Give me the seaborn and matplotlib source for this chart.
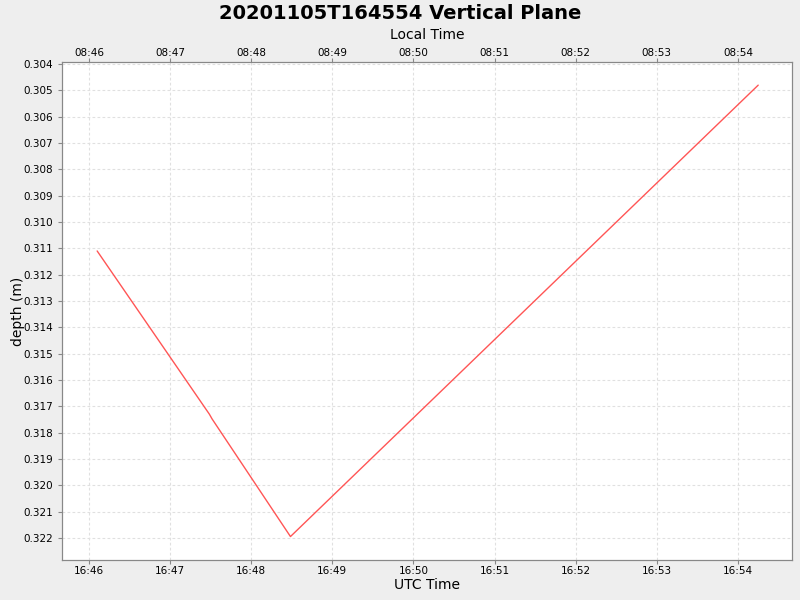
import numpy as np
import pandas as pd
import seaborn as sns
import matplotlib
matplotlib.use("Agg")
import matplotlib.pyplot as plt
import matplotlib.dates as mdates

# data
utc_times = ["2020-11-05 16:46:06", "2020-11-05 16:47:29", "2020-11-05 16:47:31",
             "2020-11-05 16:48:29", "2020-11-05 16:54:15"]
depths = [0.3111, 0.3173, 0.31748, 0.32195, 0.3048]
x_start = "2020-11-05 16:45:40"
x_end = "2020-11-05 16:54:40"
local_offset_hours = -8

df = pd.DataFrame({"utc": pd.to_datetime(utc_times), "depth": depths})

sns.set_style("white")
plt.rcParams['font.family'] = ['DejaVu Sans']
plt.rcParams['text.color'] = 'black'
plt.rcParams['axes.labelcolor'] = 'black'
plt.rcParams['xtick.color'] = 'black'
plt.rcParams['ytick.color'] = 'black'

fig = plt.figure(figsize=(8, 6), dpi=100, facecolor="#eeeeee")
ax = fig.add_axes([0.0775, 0.0667, 0.9125, 0.83])
ax.set_facecolor("white")

sns.lineplot(data=df, x="utc", y="depth", color="#ff5555", linewidth=1.0, ax=ax)

ax.set_xlim(pd.Timestamp(x_start), pd.Timestamp(x_end))
ax.set_ylim(0.32284, 0.30392)
ax.set_yticks(np.round(np.arange(0.304, 0.3225, 0.001), 3))
ax.yaxis.set_major_formatter(plt.FormatStrFormatter("%.3f"))
ax.xaxis.set_major_locator(mdates.MinuteLocator())
ax.xaxis.set_major_formatter(mdates.DateFormatter("%H:%M"))

ax.grid(True, color="#e0e0e0", linestyle=(0, (2.5, 2)), linewidth=0.8)
for s in ax.spines.values():
    s.set_color("#888888")
ax.tick_params(axis="both", labelsize=7.5, length=3, color="#888888", direction="out",
               bottom=True, left=True, labelcolor="black")
ax.tick_params(axis="x", pad=1.5)
ax.set_xlabel("UTC Time", fontsize=10, labelpad=1)
ax.set_ylabel("depth (m)", fontsize=10)
ax.yaxis.set_label_coords(-0.051, 0.5)

# top axis with local time
top = ax.twiny()
top.set_xlim(ax.get_xlim())
top.xaxis.set_major_locator(mdates.MinuteLocator())
off = local_offset_hours / 24.0
top.xaxis.set_major_formatter(plt.FuncFormatter(
    lambda v, p: mdates.num2date(v + off).strftime("%H:%M")))
top.tick_params(axis="x", labelsize=7.5, length=3, color="#888888", direction="out",
                top=True, pad=0, labelcolor="black")
for s in top.spines.values():
    s.set_color("#888888")
top.set_xlabel("Local Time", fontsize=10, labelpad=6)

fig.suptitle("20201105T164554 Vertical Plane", fontsize=14, fontweight="bold",
             y=0.994, color="black")

fig.savefig("out.png", dpi=100, facecolor=fig.get_facecolor())
